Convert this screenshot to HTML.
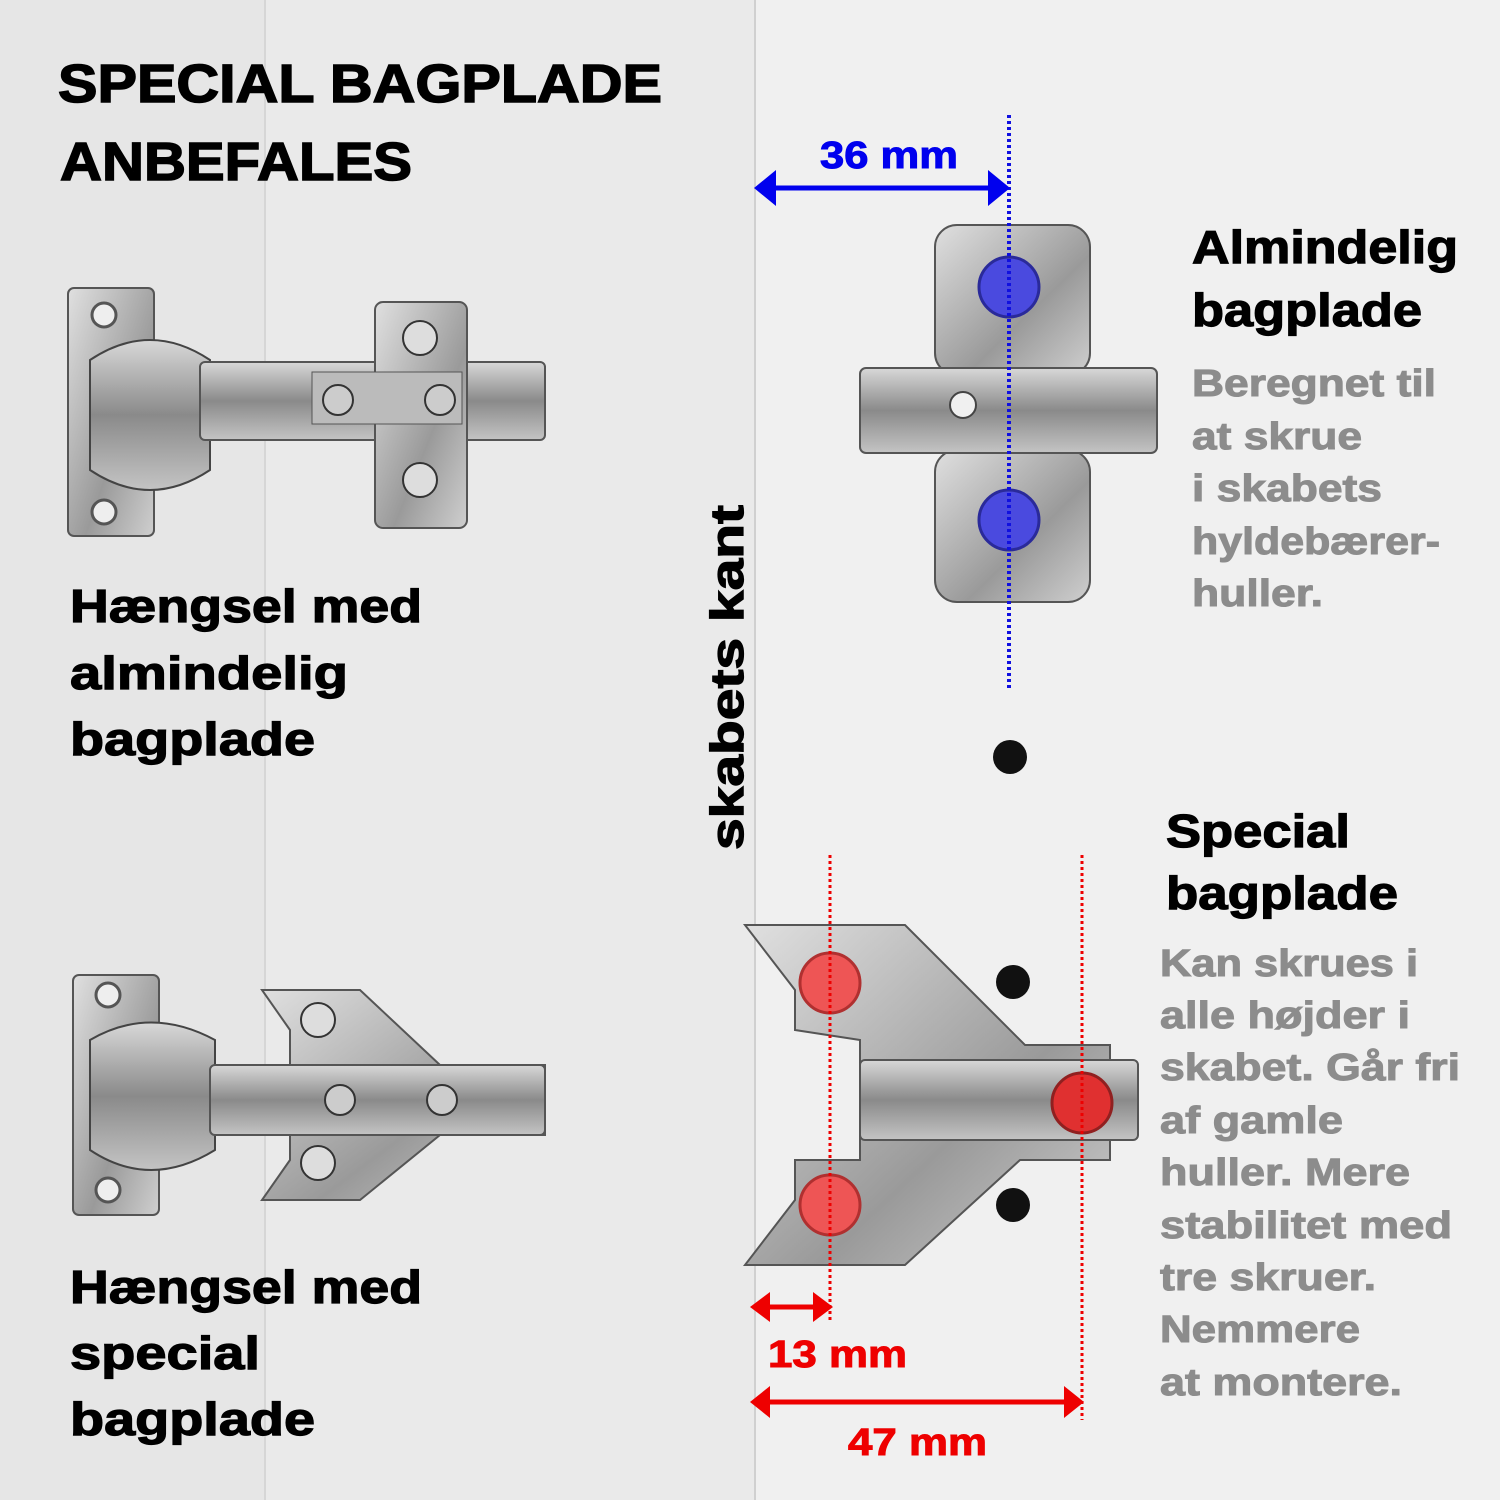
<!DOCTYPE html>
<html><head><meta charset="utf-8"><style>
html,body{margin:0;padding:0;width:1500px;height:1500px;overflow:hidden;background:#ececec}
svg{display:block}
text{font-family:"Liberation Sans",Arial,sans-serif;font-weight:bold}
</style></head><body>
<svg width="1500" height="1500" viewBox="0 0 1500 1500" xmlns="http://www.w3.org/2000/svg">
<defs>
<linearGradient id="m" x1="0" y1="0" x2="0" y2="1"><stop offset="0" stop-color="#d8d8d8"/><stop offset="0.5" stop-color="#8a8a8a"/><stop offset="1" stop-color="#c4c4c4"/></linearGradient>
<linearGradient id="m2" x1="0" y1="0" x2="1" y2="1"><stop offset="0" stop-color="#e0e0e0"/><stop offset="0.6" stop-color="#9a9a9a"/><stop offset="1" stop-color="#cfcfcf"/></linearGradient>
</defs>
<rect x="0" y="0" width="265" height="1500" fill="#e6e6e6"/>
<rect x="265" y="0" width="490" height="1500" fill="#eaeaea"/>
<rect x="755" y="0" width="745" height="1500" fill="#f0f0f0"/>
<line x1="265" y1="0" x2="265" y2="1500" stroke="#d6d6d6" stroke-width="2"/>
<line x1="755" y1="0" x2="755" y2="1500" stroke="#d0d0d0" stroke-width="2"/>

<g stroke-width="1.5" lengthAdjust="spacingAndGlyphs">
<text x="58" y="102" font-size="54" fill="#000" stroke="#000" stroke-width="1.5" textLength="604" lengthAdjust="spacingAndGlyphs">SPECIAL BAGPLADE</text>
<text x="60" y="180" font-size="54" fill="#000" stroke="#000" stroke-width="1.5" textLength="352" lengthAdjust="spacingAndGlyphs">ANBEFALES</text>
</g>

<!-- top hinge -->
<rect x="68" y="288" width="86" height="248" rx="6" fill="url(#m2)" stroke="#555" stroke-width="2"/>
<circle cx="104" cy="315" r="12" fill="#eee" stroke="#555" stroke-width="3"/>
<circle cx="104" cy="512" r="12" fill="#eee" stroke="#555" stroke-width="3"/>
<path d="M90 360 Q150 320 210 360 L210 470 Q150 510 90 470 Z" fill="url(#m)" stroke="#444" stroke-width="2"/>
<rect x="200" y="362" width="345" height="78" rx="5" fill="url(#m)" stroke="#555" stroke-width="2"/>
<rect x="375" y="302" width="92" height="226" rx="8" fill="url(#m2)" stroke="#555" stroke-width="2"/>
<rect x="312" y="372" width="150" height="52" fill="#bbb" stroke="#555"/>
<circle cx="338" cy="400" r="15" fill="#ccc" stroke="#333" stroke-width="2"/>
<circle cx="440" cy="400" r="15" fill="#ccc" stroke="#333" stroke-width="2"/>
<circle cx="420" cy="338" r="17" fill="#ddd" stroke="#333" stroke-width="2"/>
<circle cx="420" cy="480" r="17" fill="#ddd" stroke="#333" stroke-width="2"/>

<!-- bottom hinge -->
<rect x="73" y="975" width="86" height="240" rx="6" fill="url(#m2)" stroke="#555" stroke-width="2"/>
<circle cx="108" cy="995" r="12" fill="#eee" stroke="#555" stroke-width="3"/>
<circle cx="108" cy="1190" r="12" fill="#eee" stroke="#555" stroke-width="3"/>
<path d="M90 1040 Q150 1005 215 1040 L215 1150 Q150 1190 90 1150 Z" fill="url(#m)" stroke="#444" stroke-width="2"/>
<path d="M262 990 L360 990 L440 1065 L545 1065 L545 1135 L440 1135 L360 1200 L262 1200 L290 1160 L290 1030 Z" fill="url(#m2)" stroke="#555" stroke-width="2"/>
<rect x="210" y="1065" width="335" height="70" rx="5" fill="url(#m)" stroke="#555" stroke-width="2"/>
<circle cx="318" cy="1020" r="17" fill="#ddd" stroke="#333" stroke-width="2"/>
<circle cx="318" cy="1163" r="17" fill="#ddd" stroke="#333" stroke-width="2"/>
<circle cx="340" cy="1100" r="15" fill="#ccc" stroke="#333" stroke-width="2"/>
<circle cx="442" cy="1100" r="15" fill="#ccc" stroke="#333" stroke-width="2"/>

<g font-size="46" fill="#000" stroke="#000" stroke-width="1.2">
<text x="70" y="622" textLength="352" lengthAdjust="spacingAndGlyphs">Hængsel med</text>
<text x="70" y="689" textLength="278" lengthAdjust="spacingAndGlyphs">almindelig</text>
<text x="70" y="755" textLength="245" lengthAdjust="spacingAndGlyphs">bagplade</text>
<text x="70" y="1303" textLength="352" lengthAdjust="spacingAndGlyphs">Hængsel med</text>
<text x="70" y="1369" textLength="190" lengthAdjust="spacingAndGlyphs">special</text>
<text x="70" y="1435" textLength="245" lengthAdjust="spacingAndGlyphs">bagplade</text>
<text transform="translate(743 850) rotate(-90)" textLength="345" lengthAdjust="spacingAndGlyphs">skabets kant</text>
<text x="1192" y="263" textLength="266" lengthAdjust="spacingAndGlyphs">Almindelig</text>
<text x="1192" y="326" textLength="230" lengthAdjust="spacingAndGlyphs">bagplade</text>
<text x="1166" y="847" textLength="184" lengthAdjust="spacingAndGlyphs">Special</text>
<text x="1166" y="909" textLength="232" lengthAdjust="spacingAndGlyphs">bagplade</text>
</g>

<!-- almindelig plate -->
<rect x="935" y="225" width="155" height="150" rx="22" fill="url(#m2)" stroke="#555" stroke-width="2"/>
<rect x="935" y="450" width="155" height="152" rx="22" fill="url(#m2)" stroke="#555" stroke-width="2"/>
<rect x="860" y="368" width="297" height="85" rx="6" fill="url(#m)" stroke="#555" stroke-width="2"/>
<circle cx="963" cy="405" r="13" fill="#f0f0f0" stroke="#444" stroke-width="2"/>
<circle cx="1009" cy="287" r="30" fill="#4a4adf" stroke="#2a2a9a" stroke-width="3"/>
<circle cx="1009" cy="520" r="30" fill="#4a4adf" stroke="#2a2a9a" stroke-width="3"/>
<line x1="1009" y1="115" x2="1009" y2="690" stroke="#1010e0" stroke-width="4" stroke-dasharray="3 3"/>
<line x1="770" y1="188" x2="995" y2="188" stroke="#0000ee" stroke-width="5"/>
<polygon points="754,188 776,170 776,206" fill="#0000ee"/>
<polygon points="1010,188 988,170 988,206" fill="#0000ee"/>
<text x="820" y="168" font-size="38" fill="#0000ee" stroke="#0000ee" stroke-width="1" textLength="138" lengthAdjust="spacingAndGlyphs">36 mm</text>

<circle cx="1010" cy="757" r="17" fill="#111"/>
<circle cx="1013" cy="982" r="17" fill="#111"/>
<circle cx="1013" cy="1205" r="17" fill="#111"/>

<!-- special plate -->
<path d="M745 925 L905 925 L1025 1045 L1110 1045 L1110 1160 L1020 1160 L905 1265 L745 1265 L795 1200 L795 1160 L860 1160 L860 1040 L795 1030 L795 990 Z" fill="url(#m2)" stroke="#555" stroke-width="2"/>
<rect x="860" y="1060" width="278" height="80" rx="5" fill="url(#m)" stroke="#555" stroke-width="2"/>
<circle cx="830" cy="983" r="30" fill="#ee5555" stroke="#b03030" stroke-width="3"/>
<circle cx="830" cy="1205" r="30" fill="#ee5555" stroke="#b03030" stroke-width="3"/>
<circle cx="1082" cy="1103" r="30" fill="#e03030" stroke="#902020" stroke-width="3"/>
<line x1="830" y1="855" x2="830" y2="1320" stroke="#ee0000" stroke-width="3" stroke-dasharray="3 3"/>
<line x1="1082" y1="855" x2="1082" y2="1420" stroke="#ee0000" stroke-width="3" stroke-dasharray="3 3"/>
<line x1="765" y1="1307" x2="818" y2="1307" stroke="#ee0000" stroke-width="5"/>
<polygon points="750,1307 770,1292 770,1322" fill="#ee0000"/>
<polygon points="833,1307 813,1292 813,1322" fill="#ee0000"/>
<text x="768" y="1367" font-size="38" fill="#ee0000" stroke="#ee0000" stroke-width="1" textLength="139" lengthAdjust="spacingAndGlyphs">13 mm</text>
<line x1="765" y1="1402" x2="1068" y2="1402" stroke="#ee0000" stroke-width="5"/>
<polygon points="750,1402 770,1386 770,1418" fill="#ee0000"/>
<polygon points="1084,1402 1064,1386 1064,1418" fill="#ee0000"/>
<text x="848" y="1455" font-size="38" fill="#ee0000" stroke="#ee0000" stroke-width="1" textLength="139" lengthAdjust="spacingAndGlyphs">47 mm</text>

<g font-size="38" fill="#8c8c8c" stroke="#8c8c8c" stroke-width="1">
<text x="1192" y="396" textLength="244" lengthAdjust="spacingAndGlyphs">Beregnet til</text>
<text x="1192" y="449" textLength="170" lengthAdjust="spacingAndGlyphs">at skrue</text>
<text x="1192" y="501" textLength="190" lengthAdjust="spacingAndGlyphs">i skabets</text>
<text x="1192" y="554" textLength="248" lengthAdjust="spacingAndGlyphs">hyldebærer-</text>
<text x="1192" y="606" textLength="131" lengthAdjust="spacingAndGlyphs">huller.</text>
<text x="1160" y="976" textLength="258" lengthAdjust="spacingAndGlyphs">Kan skrues i</text>
<text x="1160" y="1028" textLength="250" lengthAdjust="spacingAndGlyphs">alle højder i</text>
<text x="1160" y="1080" textLength="300" lengthAdjust="spacingAndGlyphs">skabet. Går fri</text>
<text x="1160" y="1133" textLength="183" lengthAdjust="spacingAndGlyphs">af gamle</text>
<text x="1160" y="1185" textLength="250" lengthAdjust="spacingAndGlyphs">huller. Mere</text>
<text x="1160" y="1238" textLength="292" lengthAdjust="spacingAndGlyphs">stabilitet med</text>
<text x="1160" y="1290" textLength="216" lengthAdjust="spacingAndGlyphs">tre skruer.</text>
<text x="1160" y="1342" textLength="200" lengthAdjust="spacingAndGlyphs">Nemmere</text>
<text x="1160" y="1395" textLength="242" lengthAdjust="spacingAndGlyphs">at montere.</text>
</g>
</svg>
</body></html>
